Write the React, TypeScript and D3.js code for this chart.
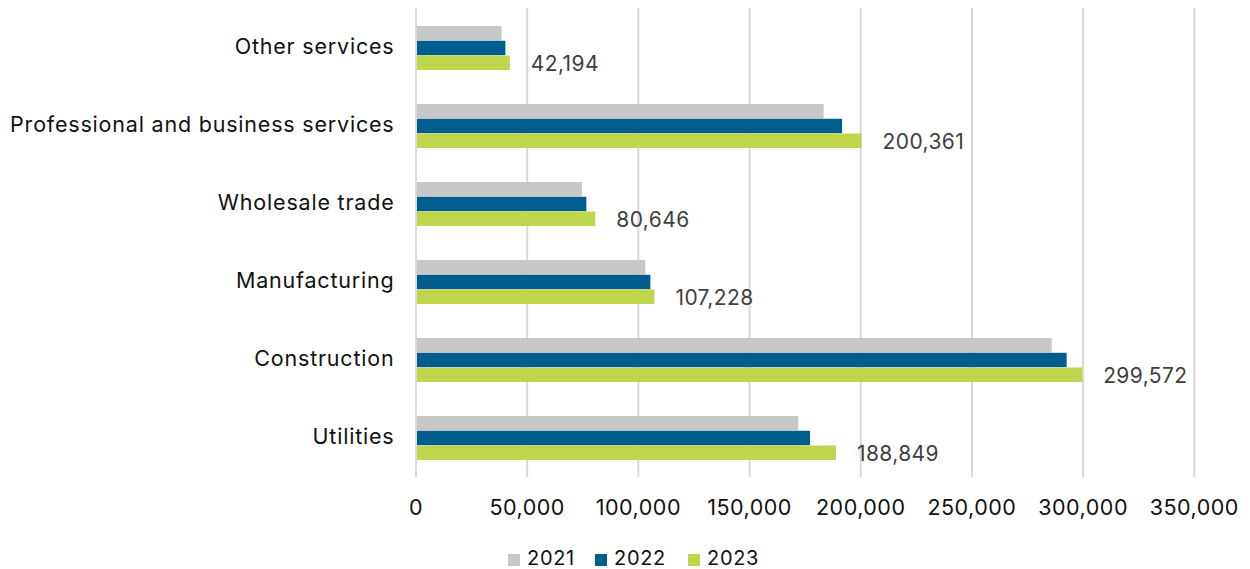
import React from "react";
import * as d3 from "d3";

const categories = [
  "Other services",
  "Professional and business services",
  "Wholesale trade",
  "Manufacturing",
  "Construction",
  "Utilities",
];
const years = ["2021", "2022", "2023"];
const values2021 = [38500, 183300, 74600, 103100, 285900, 171900];
const values2022 = [40200, 191600, 76600, 105400, 292600, 177200];
const values2023 = [42194, 200361, 80646, 107228, 299572, 188849];
const xTicks = [0, 50000, 100000, 150000, 200000, 250000, 300000, 350000];
const colors = ["#C8C8C8", "#005E8F", "#BFD54B"];

const W = 1250;
const H = 569;
const FONT = "Inter, 'Noto Sans', sans-serif";

export default function App() {
  const series = [values2021, values2022, values2023];
  const x = d3.scaleLinear().domain([0, 350000]).range([416, 1194.3]);
  const y = d3
    .scaleBand<string>()
    .domain(categories)
    .range([9, 477])
    .paddingInner(0.436)
    .paddingOuter(0.218);
  const inner = d3
    .scaleBand<string>()
    .domain(years)
    .range([0, y.bandwidth()])
    .paddingInner(0.02);
  const fmt = d3.format(",");

  return (
    <svg
      width={W}
      height={H}
      style={{ position: "absolute", left: 0, top: 0, fontFamily: FONT }}
    >
      <rect x={0} y={0} width={W} height={H} fill="#fff" />
      {xTicks.map((t) => (
        <line
          key={"g" + t}
          x1={x(t)}
          x2={x(t)}
          y1={8}
          y2={477}
          stroke="#D9D9D9"
          strokeWidth={2}
        />
      ))}
      {categories.map((c, i) => (
        <g key={c}>
          {series.map((s, k) => (
            <rect
              key={k}
              x={x(0) + 1}
              y={(y(c) as number) + (inner(years[k]) as number)}
              width={x(s[i]) - x(0) - 1}
              height={inner.bandwidth()}
              fill={colors[k]}
            />
          ))}
          <text
            x={394.5}
            y={(y(c) as number) + y.bandwidth() / 2 + 6}
            textAnchor="end"
            fontSize={21.5}
            letterSpacing={0.8}
            fill="#111"
          >
            {c}
          </text>
          <text
            x={x(values2023[i]) + 21}
            y={(y(c) as number) + (inner("2023") as number) + inner.bandwidth() / 2 + 8}
            fontSize={21}
            letterSpacing={0.4}
            fill="#404040"
          >
            {fmt(values2023[i])}
          </text>
        </g>
      ))}
      {xTicks.map((t) => (
        <text
          key={"t" + t}
          x={x(t)}
          y={515}
          textAnchor="middle"
          fontSize={21.5}
          letterSpacing={0.5}
          fill="#111"
        >
          {fmt(t)}
        </text>
      ))}
      {years.map((yr, k) => {
        const lx = [508, 595, 688][k];
        return (
          <g key={yr}>
            <rect x={lx} y={554} width={12} height={12} fill={colors[k]} />
            <text x={lx + 19} y={565} fontSize={20} letterSpacing={0.7} fill="#111">
              {yr}
            </text>
          </g>
        );
      })}
    </svg>
  );
}
